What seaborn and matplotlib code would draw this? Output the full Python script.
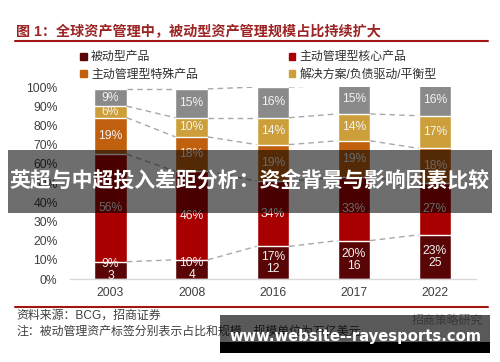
import matplotlib
matplotlib.use('Agg')
import matplotlib.pyplot as plt
from matplotlib.patches import Patch, Rectangle
from matplotlib.lines import Line2D
import seaborn as sns

# data (percent of global AUM)
years = ['2003', '2008', '2016', '2017', '2022']
passive = [9, 10, 17, 20, 23]
passive_aum = [3, 4, 12, 16, 25]   # trillion USD
active_core = [56, 46, 34, 33, 27]
active_special = [19, 18, 19, 19, 18]
solutions = [6, 10, 14, 14, 17]
other = [9, 15, 16, 15, 16]

series_names = ['被动型产品', '主动管理型核心产品', '主动管理型特殊产品', '解决方案/负债驱动/平衡型', '其他']
colors = ['#5a0505', '#a80000', '#c0600e', '#cc9f3a', '#8a8a8a']

W, H = 500, 362
sns.set_theme(style='white')
plt.rcParams['font.family'] = ['Liberation Sans', 'Noto Sans CJK SC']

fig = plt.figure(figsize=(W / 100, H / 100), dpi=100)

def fx(px):
  return px / W

def fy(py):
  return 1 - py / H

ax = fig.add_axes([fx(70), fy(279), fx(475.5) - fx(70), fy(87) - fy(279)])

layers = [passive, active_core, active_special, solutions, other]
cums = []
run = [0] * len(years)
for layer in layers:
  run = [a + b for a, b in zip(run, layer)]
  cums.append(run)

bar_w = 0.40
# stacked bars: draw cumulative totals from the top layer down
for cum, c in reversed(list(zip(cums, colors))):
  sns.barplot(x=years, y=cum, color=c, width=bar_w, saturation=1,
              errorbar=None, order=years, ax=ax)

# dashed connectors between the segment boundaries
for cum in cums:
  for i in range(len(years) - 1):
    ax.plot([i + bar_w / 2, i + 1 - bar_w / 2], [cum[i], cum[i + 1]],
            color='#a8a8a8', lw=1, ls=(0, (4, 3)), zorder=1)

# segment labels
for k, (layer, cum) in enumerate(zip(layers, cums)):
  for i in range(len(years)):
    mid = cum[i] - layer[i] / 2
    if k == 0:
      txt = '%d%%\n%d' % (layer[i], passive_aum[i])
      ax.text(i, mid, txt, ha='center', va='center', color='#f2f2f2',
              fontsize=8.7, linespacing=1.0)
    else:
      ax.text(i, mid, '%d%%' % layer[i], ha='center', va='center',
              color='#f2f2f2', fontsize=8.7)

ax.set_ylim(0, 100)
ax.set_xlim(-0.5, len(years) - 0.5)
ax.set_yticks(range(0, 101, 10))
ax.set_yticklabels(['%d%%' % v for v in range(0, 101, 10)])
ax.tick_params(axis='both', length=0, labelsize=8.7, colors='#404040')
ax.tick_params(axis='y', pad=9)
ax.tick_params(axis='x', pad=6)
ax.set_xlabel('')
ax.set_ylabel('')
for s in ['top', 'right', 'left']:
  ax.spines[s].set_visible(False)
ax.spines['bottom'].set_color('#d9d9d9')
ax.spines['bottom'].set_linewidth(1)

# title and rules
fig.text(fx(16), fy(32), '图 1：全球资产管理中，被动型资产管理规模占比持续扩大',
         color='#9c2424', fontsize=10.2, fontweight='bold', va='center', ha='left')
fig.add_artist(Line2D([fx(15), fx(488)], [fy(41), fy(41)], color='#a31515', lw=1.5))
fig.add_artist(Line2D([fx(15), fx(488)], [fy(307), fy(307)], color='#a31515', lw=1.5))

# legend
handles = [Patch(color=colors[i]) for i in [0, 2, 1, 3]]
labels = [series_names[i] for i in [0, 2, 1, 3]]
fig.legend(handles, labels, ncol=2, loc='upper left',
           bbox_to_anchor=(fx(72), fy(43)), frameon=False, fontsize=8.6,
           handlelength=0.55, handleheight=0.55, handletextpad=0.35,
           columnspacing=7.6, labelspacing=0.45, borderpad=0.2,
           labelcolor='#303030')

# footer
fig.text(fx(16), fy(316), '资料来源：BCG，招商证券', fontsize=8.6,
         color='#404040', va='center')
fig.text(fx(16), fy(332), '注：被动管理资产标签分别表示占比和规模，规模单位为万亿美元',
         fontsize=8.6, color='#404040', va='center')
fig.text(fx(483), fy(321), '招商策略研究', fontsize=8.6, color='#a0a0a0',
         va='center', ha='right')

# overlay banner
fig.add_artist(Rectangle((fx(8), fy(213)), fx(492) - fx(8), fy(150) - fy(213),
                         transform=fig.transFigure, color='black', alpha=0.57,
                         lw=0, zorder=10))
fig.text(0.5, fy(180), '英超与中超投入差距分析：资金背景与影响因素比较',
         color='white', fontsize=15.0, fontweight='bold', ha='center',
         va='center', family=['Noto Sans CJK SC'], zorder=11)

# watermark box
fig.add_artist(Rectangle((fx(220), fy(353)), fx(490) - fx(220), fy(315) - fy(353),
                         transform=fig.transFigure, color='black', alpha=0.65,
                         lw=0, zorder=10))
fig.add_artist(Rectangle((fx(220), fy(353)), fx(490) - fx(220), fy(342) - fy(353),
                         transform=fig.transFigure, color='black', lw=0, zorder=10))
fig.text(fx(355), fy(337), 'www.website--rayesports.com', color='white',
         fontsize=10.6, fontweight='bold', ha='center', va='center',
         family=['DejaVu Sans'], zorder=11)

fig.savefig('out.png', dpi=100)
